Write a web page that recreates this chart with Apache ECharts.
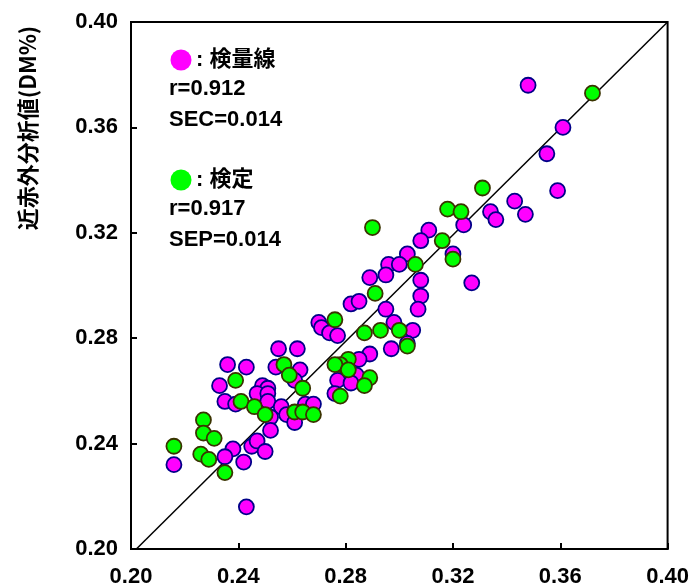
<!DOCTYPE html>
<html>
<head>
<meta charset="utf-8">
<script src="https://cdn.jsdelivr.net/npm/echarts@6/dist/echarts.min.js"></script>
<style>
  html, body { margin: 0; padding: 0; background: #fff; }
  #chart { width: 692px; height: 588px; }
</style>
</head>
<body>
<div id="chart"></div>
<script>
// 検量線 (calibration set): x = reference value, y = NIR value
const calX = [0.348, 0.361, 0.355, 0.359, 0.343, 0.347, 0.334, 0.336, 0.324, 0.311,
  0.308, 0.303, 0.320, 0.296, 0.300, 0.295, 0.289, 0.308, 0.327, 0.308,
  0.282, 0.285, 0.295, 0.307, 0.298, 0.270, 0.271, 0.274, 0.277, 0.305,
  0.297, 0.303, 0.255, 0.262, 0.289, 0.285, 0.236, 0.243, 0.254, 0.263,
  0.284, 0.261, 0.277, 0.282, 0.233, 0.249, 0.251, 0.247, 0.251, 0.251,
  0.276, 0.235, 0.239, 0.256, 0.258, 0.261, 0.265, 0.268, 0.252, 0.252,
  0.216, 0.238, 0.235, 0.245, 0.247, 0.250, 0.242, 0.243];
const calY = [0.376, 0.360, 0.350, 0.336, 0.332, 0.327, 0.328, 0.325, 0.323, 0.321,
  0.317, 0.312, 0.312, 0.308, 0.308, 0.304, 0.303, 0.302, 0.301, 0.296,
  0.293, 0.294, 0.291, 0.291, 0.286, 0.286, 0.284, 0.282, 0.281, 0.283,
  0.276, 0.278, 0.276, 0.276, 0.274, 0.272, 0.270, 0.269, 0.269, 0.268,
  0.266, 0.264, 0.264, 0.263, 0.262, 0.262, 0.261, 0.259, 0.259, 0.256,
  0.259, 0.256, 0.255, 0.254, 0.251, 0.248, 0.255, 0.255, 0.250, 0.245,
  0.232, 0.238, 0.235, 0.239, 0.241, 0.237, 0.233, 0.216];

// 検定 (validation set)
const valX = [0.372, 0.331, 0.318, 0.323, 0.290, 0.316, 0.306, 0.320, 0.291, 0.276,
  0.287, 0.293, 0.300, 0.303, 0.281, 0.278, 0.276, 0.281, 0.257, 0.259,
  0.289, 0.239, 0.287, 0.264, 0.278, 0.241, 0.246, 0.250, 0.261, 0.264,
  0.268, 0.227, 0.227, 0.231, 0.216, 0.226, 0.229, 0.235];
const valY = [0.373, 0.337, 0.329, 0.328, 0.322, 0.317, 0.308, 0.310, 0.297, 0.287,
  0.282, 0.283, 0.283, 0.277, 0.272, 0.270, 0.270, 0.268, 0.270, 0.266,
  0.265, 0.264, 0.262, 0.261, 0.258, 0.256, 0.254, 0.251, 0.252, 0.252,
  0.251, 0.249, 0.244, 0.242, 0.239, 0.236, 0.234, 0.229];

// 1:1 line ends
const lineX = [0.202, 0.40];
const lineY = [0.20, 0.40];

const axisMin = 0.20, axisMax = 0.40, axisStep = 0.04;

const calStats = ['r=0.912', 'SEC=0.014'];
const valStats = ['r=0.917', 'SEP=0.014'];

const zip = (xs, ys) => xs.map((x, i) => [x, ys[i]]);

const numFont = "'Liberation Sans', Arial, 'Noto Sans CJK JP', sans-serif";

const chart = echarts.init(document.getElementById('chart'), null, { renderer: 'canvas' });

function axisCommon() {
  return {
    type: 'value',
    min: axisMin,
    max: axisMax,
    interval: axisStep,
    axisLine: { show: true, lineStyle: { color: '#000', width: 2 } },
    axisTick: { show: true, inside: true, length: 6, lineStyle: { color: '#000', width: 2 } },
    splitLine: { show: false },
    axisLabel: {
      color: '#000',
      fontFamily: numFont,
      fontWeight: 'bold',
      fontSize: 22,
      formatter: v => v.toFixed(2)
    }
  };
}

const xAxis = axisCommon();
xAxis.axisLabel.margin = 17;
const yAxis = axisCommon();
yAxis.axisLabel.margin = 13;

function legendBlock(color, label, stats, cy) {
  const items = [
    { type: 'circle', shape: { cx: 181, cy: cy, r: 10.5 }, style: { fill: color } },
    { type: 'text', x: 196, y: cy, style: { text: ': ' + label, font: "bold 22px 'Liberation Sans', 'Noto Sans CJK JP'", fill: '#000', textVerticalAlign: 'middle' } }
  ];
  stats.forEach((s, i) => {
    items.push({ type: 'text', x: 169, y: cy + 29 + i * 31, style: { text: s, font: "bold 22px " + numFont, fill: '#000', textVerticalAlign: 'middle' } });
  });
  return items;
}

const option = {
  animation: false,
  backgroundColor: '#fff',
  grid: { left: 131, top: 22, right: 20, bottom: 38, show: true, borderColor: '#000', borderWidth: 2 },
  xAxis: xAxis,
  yAxis: yAxis,
  graphic: [
    {
      type: 'text', x: 28, y: 128, rotation: Math.PI / 2,
      style: {
        text: '近赤外分析値(DM%)',
        font: "bold 22px 'Noto Sans CJK JP', 'Liberation Sans'",
        fill: '#000', textAlign: 'center', textVerticalAlign: 'middle'
      }
    },
    ...legendBlock('#ff00ff', '検量線', calStats, 60),
    ...legendBlock('#00ff00', '検定', valStats, 180)
  ],
  series: [
    {
      type: 'line',
      data: zip(lineX, lineY),
      symbol: 'none',
      lineStyle: { color: '#000', width: 1.5 },
      silent: true,
      z: 1
    },
    {
      name: '検量線',
      type: 'scatter',
      data: zip(calX, calY),
      symbolSize: 15,
      itemStyle: { color: '#ff00ff', borderColor: '#000088', borderWidth: 1.8, opacity: 1 },
      z: 2
    },
    {
      name: '検定',
      type: 'scatter',
      data: zip(valX, valY),
      symbolSize: 15,
      itemStyle: { color: '#00ff00', borderColor: '#3a3300', borderWidth: 1.8, opacity: 1 },
      z: 3
    }
  ]
};

chart.setOption(option);
</script>
</body>
</html>
